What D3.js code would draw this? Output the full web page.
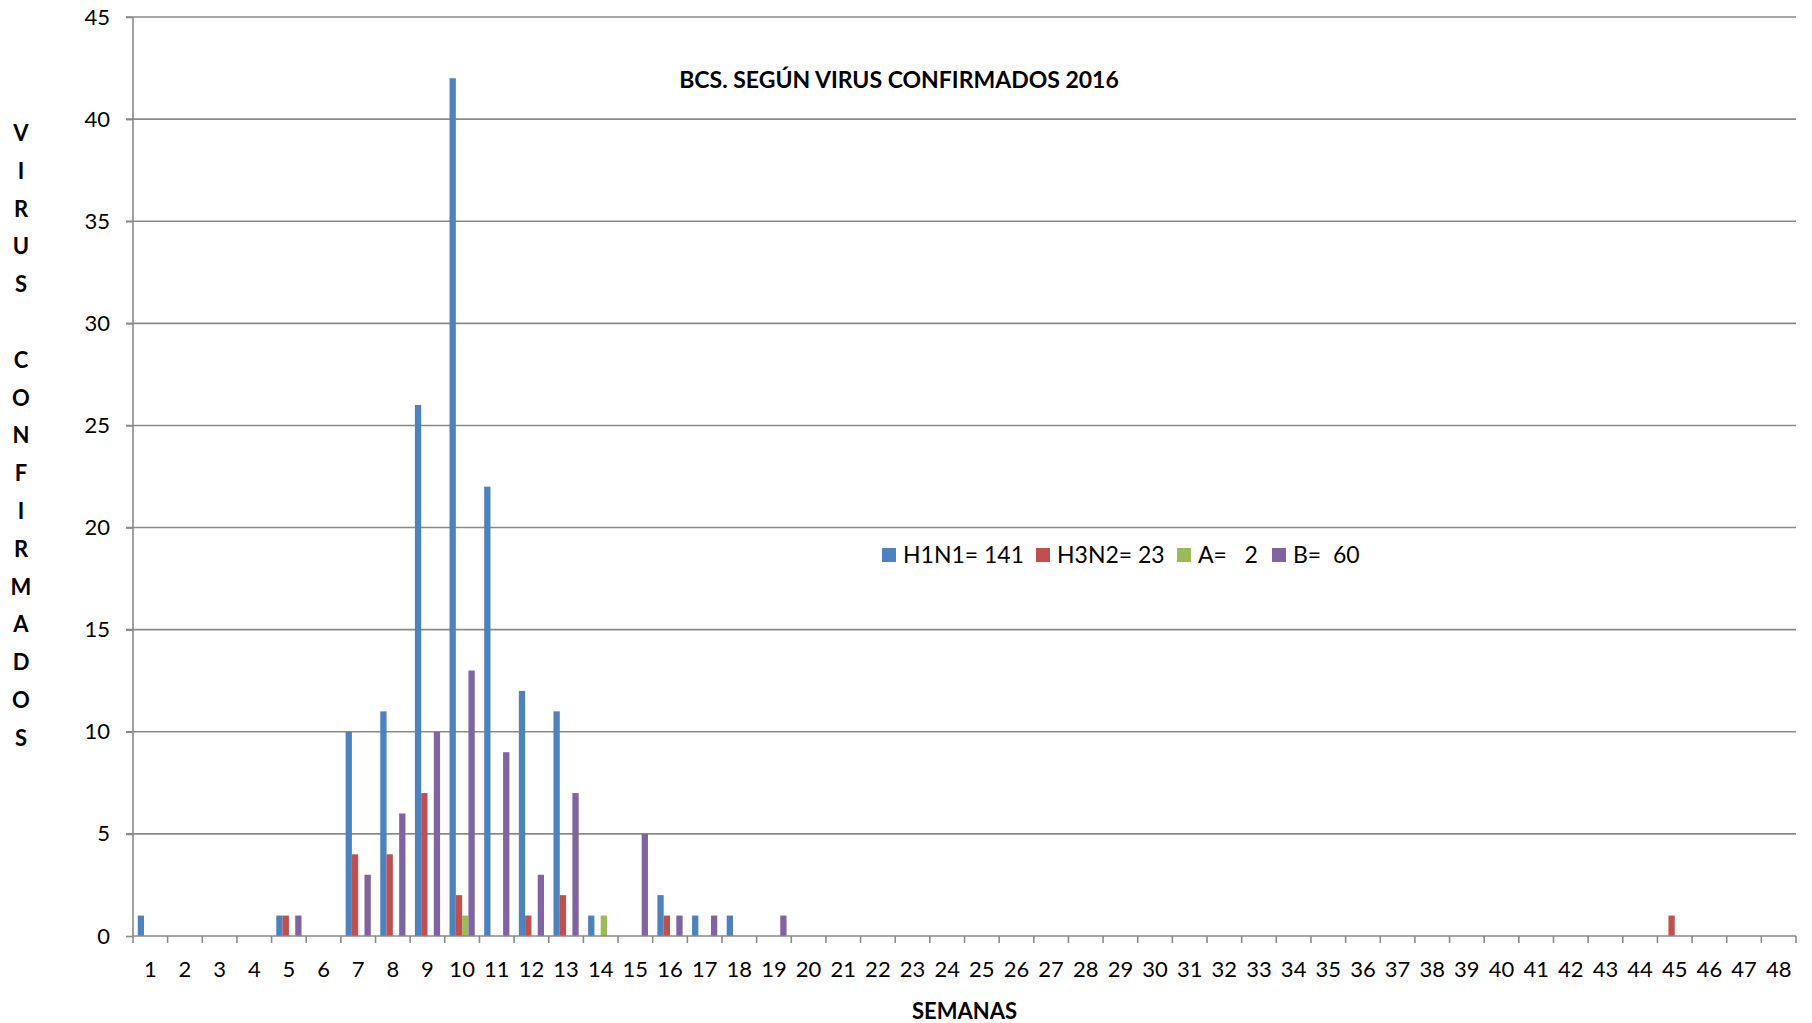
<!DOCTYPE html>
<html lang="es">
<head>
<meta charset="UTF-8">
<title>BCS. Según virus confirmados 2016</title>
<script src="https://d3js.org/d3.v7.min.js"></script>
<style>
    body { margin: 0; background: #fff; font-family: Lato, "Open Sans", sans-serif; }
    svg { display: block; }
    .grid line { stroke: #8a8a8a; stroke-width: 1.6; }
    .axis path, .axis line { stroke: #8a8a8a; stroke-width: 1.6; }
    .axis text { fill: #000; font-size: 22px; font-family: Lato, sans-serif; }
</style>
</head>
<body>
<div id="chart"></div>
<script>
// semanas epidemiologicas 1..48
const weeks = d3.range(1, 49);
const seriesNames = ["H1N1", "H3N2", "A", "B"];
const legendLabels = ["H1N1= 141", "H3N2= 23", "A=   2", "B=  60"];
const colors = ["#4F81BD", "#C0504D", "#9BBB59", "#8064A2"];

// casos por semana (solo semanas con valor)
const h1n1 = {1: 1, 5: 1, 7: 10, 8: 11, 9: 26, 10: 42, 11: 22, 12: 12, 13: 11, 14: 1, 16: 2, 17: 1, 18: 1};
const h3n2 = {5: 1, 7: 4, 8: 4, 9: 7, 10: 2, 12: 1, 13: 2, 16: 1, 45: 1};
const tipoA = {10: 1, 14: 1};
const tipoB = {5: 1, 7: 3, 8: 6, 9: 10, 10: 13, 11: 9, 12: 3, 13: 7, 15: 5, 16: 1, 17: 1, 19: 1};
const yTicks = d3.range(0, 46, 5);

const seriesData = [h1n1, h3n2, tipoA, tipoB];

const width = 1812, height = 1023;
const margin = {top: 17, right: 16, bottom: 87, left: 133};
const innerW = width - margin.left - margin.right;
const innerH = height - margin.top - margin.bottom;

const svg = d3.select("#chart").append("svg")
    .attr("width", width)
    .attr("height", height);

const g = svg.append("g").attr("transform", `translate(${margin.left},${margin.top})`);

const x0 = d3.scaleBand().domain(weeks).range([0, innerW]).padding(0);
const x1 = d3.scaleBand().domain(seriesNames).range([0, x0.bandwidth()])
    .paddingInner(0).paddingOuter(0.75);
const y = d3.scaleLinear().domain([0, 45]).range([innerH, 0]);

// lineas de cuadricula
g.append("g").attr("class", "grid")
    .selectAll("line")
    .data(yTicks.filter(d => d > 0))
    .join("line")
    .attr("x1", -7).attr("x2", innerW)
    .attr("y1", d => y(d)).attr("y2", d => y(d));

// eje y
const yAxis = g.append("g").attr("class", "axis")
    .call(d3.axisLeft(y).tickValues(yTicks).tickSize(7).tickPadding(16).tickSizeOuter(0));
yAxis.select(".domain").attr("d", `M0,${innerH}V0`);

// barras
seriesNames.forEach((name, i) => {
    const entries = Object.entries(seriesData[i]).map(([w, v]) => ({week: +w, value: v}));
    g.append("g")
        .selectAll("rect")
        .data(entries)
        .join("rect")
        .attr("x", d => x0(d.week) + x1(name))
        .attr("width", x1.bandwidth())
        .attr("y", d => y(d.value))
        .attr("height", d => innerH - y(d.value))
        .attr("fill", colors[i]);
});

// eje x
const xAxis = g.append("g").attr("class", "axis")
    .attr("transform", `translate(0,${innerH})`)
    .call(d3.axisBottom(x0).tickSize(0).tickPadding(25).tickSizeOuter(0));
xAxis.select(".domain").attr("d", `M0,0H${innerW}`);
xAxis.selectAll(".tick text").attr("dy", "0.71em");
// marcas entre categorias
xAxis.append("g").selectAll("line")
    .data(d3.range(0, weeks.length + 1))
    .join("line")
    .attr("x1", d => d * x0.step()).attr("x2", d => d * x0.step())
    .attr("y1", 0).attr("y2", 7);

// titulo
svg.append("text")
    .attr("x", 899).attr("y", 88)
    .attr("text-anchor", "middle")
    .attr("font-weight", "bold")
    .attr("font-size", 23)
    .text("BCS. SEGÚN VIRUS CONFIRMADOS 2016");

// titulo eje x
svg.append("text")
    .attr("x", margin.left + innerW / 2).attr("y", 1019)
    .attr("text-anchor", "middle")
    .attr("font-weight", "bold")
    .attr("font-size", 22)
    .text("SEMANAS");

// titulo eje y, letras apiladas
const yLabel = "VIRUS CONFIRMADOS".split("");
svg.append("g").selectAll("text")
    .data(yLabel)
    .join("text")
    .attr("x", 21)
    .attr("y", (d, i) => 141 + i * 37.8)
    .attr("text-anchor", "middle")
    .attr("font-weight", "bold")
    .attr("font-size", 22)
    .text(d => d);

// leyenda
const legendX = [882, 1036, 1177, 1272];
const legend = svg.append("g").selectAll("g")
    .data(legendLabels)
    .join("g")
    .attr("transform", (d, i) => `translate(${legendX[i]},548)`);
legend.append("rect")
    .attr("width", 14).attr("height", 14)
    .attr("fill", (d, i) => colors[i]);
legend.append("text")
    .attr("x", 21).attr("y", 15)
    .attr("font-size", 23)
    .attr("xml:space", "preserve")
    .text(d => d);
</script>
</body>
</html>
